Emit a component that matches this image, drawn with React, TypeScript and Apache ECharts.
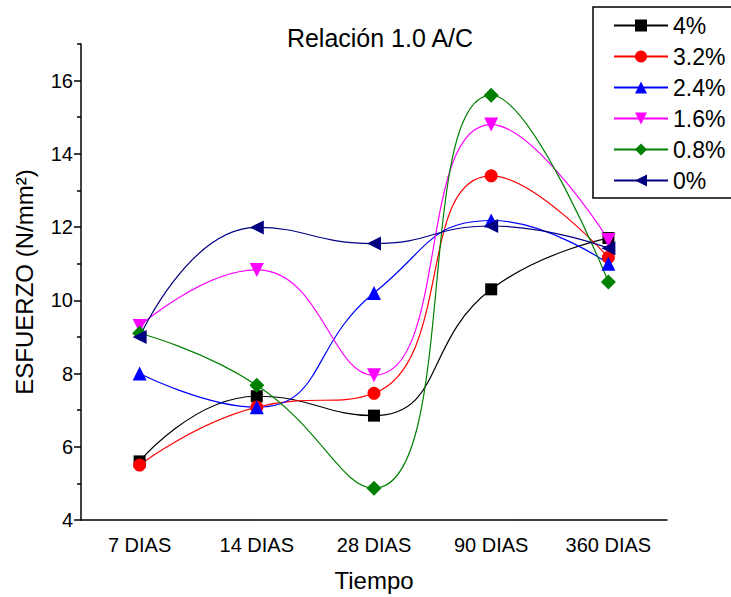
import React, { useEffect, useRef } from "react";
import * as echarts from "echarts";

const categories = ["7 DIAS", "14 DIAS", "28 DIAS", "90 DIAS", "360 DIAS"];
const s4 = [5.6, 7.38, 6.85, 10.3, 11.7];
const s32 = [5.5, 7.08, 7.46, 13.4, 11.17];
const s24 = [8.0, 7.08, 10.2, 12.18, 11.0];
const s16 = [9.3, 10.83, 7.95, 14.8, 11.65];
const s08 = [9.1, 7.68, 4.87, 15.6, 10.5];
const s0 = [9.0, 11.99, 11.55, 12.03, 11.42];
const seriesNames = ["4%", "3.2%", "2.4%", "1.6%", "0.8%", "0%"];
const majorY = [4, 6, 8, 10, 12, 14, 16];
const minorY = [5, 7, 9, 11, 13, 15, 17];

const FONT = "Liberation Sans, Arial, sans-serif";

export default function App() {
  const ref = useRef<HTMLDivElement>(null);
  useEffect(() => {
    if (!ref.current) return;
    const chart = echarts.init(ref.current, null, { renderer: "svg" });
    const mk = (name: string, data: number[], color: string, symbol: string, rotate = 0, size = 11) => ({
      name,
      type: "line",
      data,
      smooth: 0.5,
      symbol,
      symbolSize: size,
      symbolRotate: rotate,
      itemStyle: { color },
      lineStyle: { color, width: 1.2 },
      xAxisIndex: 0,
      yAxisIndex: 0,
      z: 3,
    });
    chart.setOption({
      animation: false,
      backgroundColor: "#fff",
      title: {
        text: "Relación 1.0 A/C",
        left: 375,
        textAlign: "center",
        top: 20,
        textStyle: { fontFamily: FONT, fontSize: 25, fontWeight: "normal", color: "#000" },
      },
      legend: {
        orient: "vertical",
        left: 593,
        top: 7,
        padding: [7, 10, 6, 20],
        itemWidth: 54,
        itemHeight: 15,
        itemGap: 8,
        itemTextGap: 8,
        borderColor: "#000",
        borderWidth: 1.5,
        data: seriesNames,
        textStyle: { fontFamily: FONT, fontSize: 23, color: "#000", lineHeight: 23 },
      },
      grid: { left: 81, right: 64, top: 44, bottom: 77 },
      xAxis: [
        {
          type: "category",
          data: categories,
          boundaryGap: true,
          position: "bottom",
          axisLine: { lineStyle: { color: "#000", width: 1.5 } },
          axisTick: { alignWithLabel: true, length: 7, lineStyle: { color: "#000", width: 1.5 } },
          axisLabel: { fontFamily: FONT, fontSize: 20, color: "#000", margin: 15 },
          name: "Tiempo",
          nameLocation: "middle",
          nameGap: 48,
          nameTextStyle: { fontFamily: FONT, fontSize: 24, color: "#000" },
          splitLine: { show: false },
        },
        {
          type: "category",
          data: categories,
          boundaryGap: true,
          position: "bottom",
          axisLine: { show: false },
          axisTick: { length: 4, lineStyle: { color: "#000", width: 1.5 } },
          axisLabel: { show: false },
          splitLine: { show: false },
        },
      ],
      yAxis: [
        {
          type: "value",
          min: 4,
          max: 17,
          position: "left",
          axisLine: { show: true, lineStyle: { color: "#000", width: 1.5 } },
          axisTick: { show: true, length: 7, customValues: majorY, lineStyle: { color: "#000", width: 1.5 } },
          axisLabel: { customValues: majorY, fontFamily: FONT, fontSize: 20, color: "#000", margin: 8 },
          splitLine: { show: false },
          name: "ESFUERZO (N/mm²)",
          nameLocation: "middle",
          nameGap: 45,
          nameTextStyle: { fontFamily: FONT, fontSize: 24, color: "#000" },
        },
        {
          type: "value",
          min: 4,
          max: 17,
          position: "left",
          axisLine: { show: false },
          axisTick: { show: true, length: 4, customValues: minorY, lineStyle: { color: "#000", width: 1.5 } },
          axisLabel: { show: false },
          splitLine: { show: false },
        },
      ],
      series: [
        mk("4%", s4, "#000000", "rect", 0, 12),
        mk("3.2%", s32, "#ff0000", "circle", 0, 13),
        mk("2.4%", s24, "#0000ff", "triangle", 0, 14),
        mk("1.6%", s16, "#ff00ff", "triangle", 180, 14),
        mk("0.8%", s08, "#008000", "diamond", 0, 15),
        mk("0%", s0, "#000080", "triangle", 90, 14),
      ],
    });
    return () => chart.dispose();
  }, []);
  return <div ref={ref} style={{ width: 731, height: 597, position: "absolute", left: 0, top: 0 }} />;
}
